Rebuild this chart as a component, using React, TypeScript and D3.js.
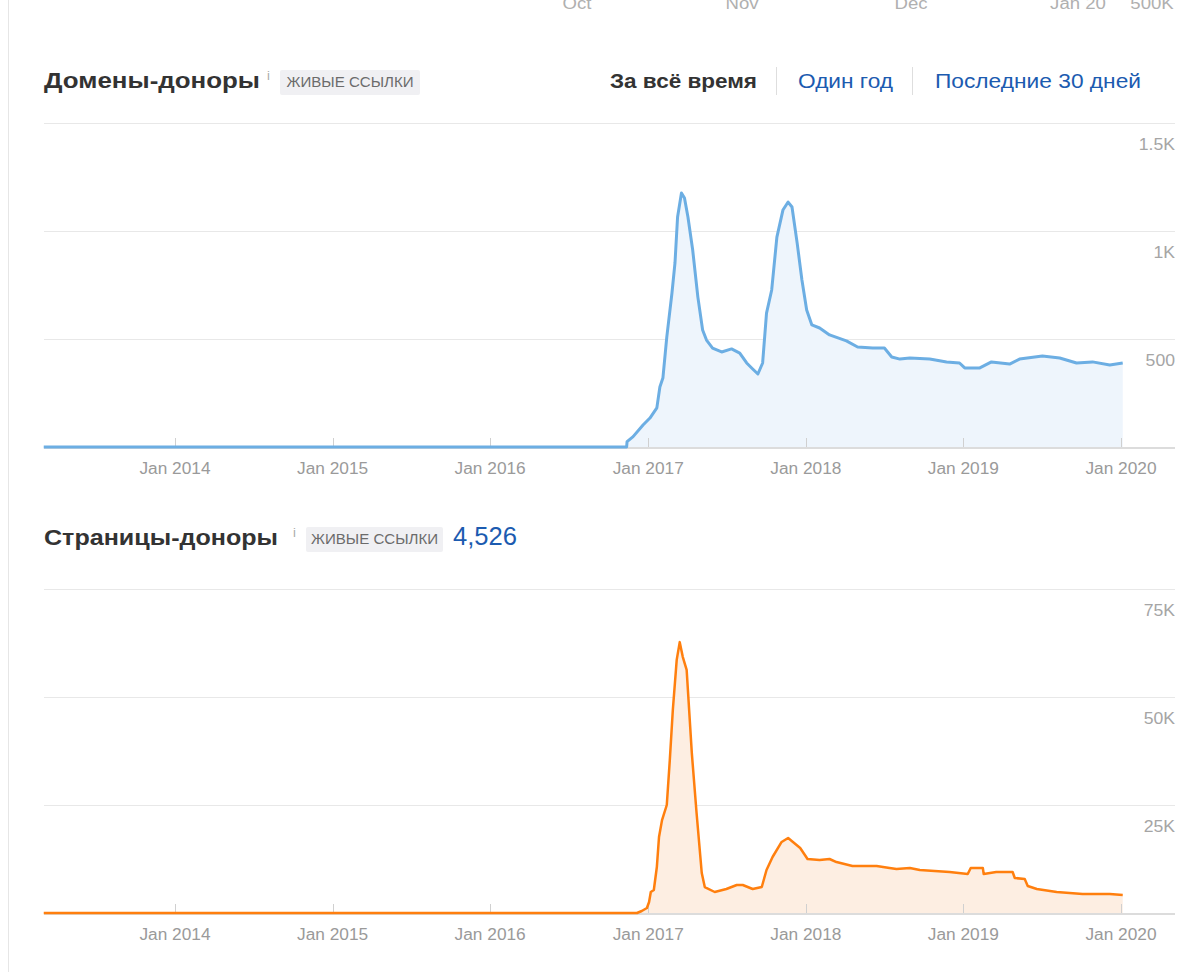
import { useEffect, useRef } from 'react';
import * as d3 from 'd3';

// ссылающиеся домены (живые ссылки)
const domainDates = [
    "2013-03-03", "2016-11-12", "2016-11-13", "2016-11-27", "2016-12-20", "2017-01-05", "2017-01-21",
    "2017-01-28", "2017-02-04", "2017-02-13", "2017-02-25", "2017-03-04", "2017-03-10", "2017-03-19",
    "2017-03-26", "2017-04-03", "2017-04-14", "2017-04-26", "2017-05-07", "2017-05-16", "2017-05-30",
    "2017-06-20", "2017-07-13", "2017-08-01", "2017-08-17", "2017-08-31", "2017-09-12", "2017-09-23",
    "2017-10-02", "2017-10-14", "2017-10-26", "2017-11-09", "2017-11-21", "2017-11-30", "2017-12-12",
    "2017-12-23", "2018-01-03", "2018-01-15", "2018-02-02", "2018-02-25", "2018-04-05", "2018-05-01",
    "2018-06-05", "2018-07-02", "2018-07-19", "2018-08-07", "2018-08-30", "2018-10-15", "2018-11-23",
    "2018-12-23", "2019-01-04", "2019-02-08", "2019-03-07", "2019-04-18", "2019-05-11", "2019-07-03",
    "2019-08-12", "2019-09-20", "2019-10-27", "2019-12-06", "2020-01-05"
];
const domainValues = [
    0, 0, 25, 48, 102, 134, 181,
    278, 319, 509, 713, 852, 1065, 1176,
    1153, 1065, 912, 694, 542, 495, 458,
    440, 454, 435, 389, 361, 338, 389,
    620, 727, 972, 1097, 1134, 1111, 944,
    773, 634, 565, 551, 519, 491, 463,
    458, 458, 417, 407, 412, 407, 394,
    389, 366, 366, 394, 384, 407, 421,
    412, 389, 394, 380, 389
];

// страницы-доноры
const pageDates = [
    "2013-03-03", "2016-12-06", "2016-12-17", "2016-12-29", "2017-01-03", "2017-01-07", "2017-01-14",
    "2017-01-21", "2017-01-26", "2017-02-02", "2017-02-13", "2017-02-20", "2017-02-27", "2017-03-08",
    "2017-03-15", "2017-03-22", "2017-03-31", "2017-04-12", "2017-04-23", "2017-05-05", "2017-05-12",
    "2017-06-04", "2017-07-01", "2017-07-25", "2017-08-08", "2017-08-31", "2017-09-21", "2017-10-02",
    "2017-10-16", "2017-11-06", "2017-11-21", "2017-12-19", "2018-01-05", "2018-02-02", "2018-02-25",
    "2018-03-13", "2018-04-19", "2018-06-14", "2018-07-14", "2018-07-30", "2018-08-30", "2018-09-22",
    "2018-11-30", "2019-01-11", "2019-01-18", "2019-02-15", "2019-02-17", "2019-03-18", "2019-04-25",
    "2019-04-30", "2019-05-23", "2019-05-30", "2019-06-20", "2019-08-05", "2019-10-04", "2019-12-06",
    "2020-01-05"
];
const pageValues = [
    0, 0, 463, 1160, 2550, 4860, 5320,
    10650, 17600, 21500, 25000, 35400, 47000, 58600,
    62700, 59300, 56300, 37000, 23150, 9260, 6000,
    4860, 5560, 6480, 6480, 5560, 6020, 9950,
    12960, 16440, 17360, 15050, 12500, 12270, 12500,
    11800, 10880, 10880, 10420, 10190, 10420, 9950,
    9490, 9030, 10420, 10420, 9030, 9490, 9490,
    8100, 7870, 6250, 5560, 4860, 4400, 4400,
    4170
];

const yearTicks = ["2014-01-01", "2015-01-01", "2016-01-01", "2017-01-01", "2018-01-01", "2019-01-01", "2020-01-01"];
const domainYTicks = [500, 1000, 1500];
const domainYLabels = ["500", "1K", "1.5K"];
const pageYTicks = [25000, 50000, 75000];
const pageYLabels = ["25K", "50K", "75K"];
const cutTopLabels = ["Oct", "Nov", "Dec", "Jan 20", "500K"];
const periodTabs = ["За всё время", "Один год", "Последние 30 дней"];

const FONT = "'Liberation Sans', Arial, sans-serif";
const parse = d3.timeParse("%Y-%m-%d");

// the screenshot is a little wider than normal Arial, so stretch the glyphs
const STRETCH = 1.16;

const App = () => {
    const ref = useRef<SVGSVGElement>(null);

    useEffect(() => {
        const svg = d3.select(ref.current);
        svg.selectAll("*").remove();

        const left = 44, right = 1175;
        const x = d3.scaleTime()
            .domain([parse("2014-01-01")!, parse("2020-01-01")!])
            .range([175, 1121]);

        // stretch a text node horizontally by measuring it first
        function stretch(sel: d3.Selection<SVGTextElement, any, any, any>, k = STRETCH) {
            sel.each(function () {
                const w = this.getComputedTextLength();
                d3.select(this).attr("textLength", w * k).attr("lengthAdjust", "spacingAndGlyphs");
            });
        }

        // left border
        svg.append("line")
            .attr("x1", 8.5).attr("x2", 8.5).attr("y1", 0).attr("y2", 972)
            .style("stroke", "#e6e6e6");

        // clipped labels of the chart above
        const cutX = [577, 742, 911, 1078, 1152];
        const cut = svg.selectAll(".cut").data(cutTopLabels).enter().append("text")
            .attr("x", (_d, i) => cutX[i])
            .attr("y", 9)
            .attr("text-anchor", "middle")
            .style("font-family", FONT).style("font-size", "16px").style("fill", "#b0b0b0")
            .text(d => d);
        stretch(cut as any);

        function header(y: number, title: string, titleW: number, iX: number, badgeX: number, badgeW: number) {
            svg.append("text")
                .attr("x", left).attr("y", y)
                .attr("textLength", titleW).attr("lengthAdjust", "spacingAndGlyphs")
                .style("font-family", FONT).style("font-size", "22px").style("font-weight", "bold")
                .style("fill", "#333")
                .text(title);
            svg.append("text")
                .attr("x", iX).attr("y", y - 8)
                .style("font-family", FONT).style("font-size", "13px").style("fill", "#aaa")
                .text("i");
            svg.append("rect")
                .attr("x", badgeX).attr("y", y - 18).attr("width", badgeW).attr("height", 25).attr("rx", 2)
                .style("fill", "#f0f0f3");
            svg.append("text")
                .attr("x", badgeX + badgeW / 2).attr("y", y - 1)
                .attr("text-anchor", "middle")
                .attr("textLength", 127).attr("lengthAdjust", "spacingAndGlyphs")
                .style("font-family", FONT).style("font-size", "14px").style("fill", "#6b6b6b")
                .text("ЖИВЫЕ ССЫЛКИ");
        }

        function chart(dates: string[], values: number[], yMax: number, top: number, base: number,
            ticks: number[], labels: string[], stroke: string, fill: string, lw: number) {
            const y = d3.scaleLinear().domain([0, yMax]).range([base, top]);
            const g = svg.append("g");

            g.selectAll(".grid").data(ticks).enter().append("line")
                .attr("x1", left).attr("x2", right)
                .attr("y1", d => Math.round(y(d)) + 0.5).attr("y2", d => Math.round(y(d)) + 0.5)
                .style("stroke", "#e8e8e8");

            const yl = g.selectAll(".ylab").data(ticks).enter().append("text")
                .attr("x", right).attr("y", d => y(d) + 27)
                .attr("text-anchor", "end")
                .style("font-family", FONT).style("font-size", "16px").style("fill", "#a5a5a5")
                .text((_d, i) => labels[i]);
            stretch(yl as any, 1.1);

            const data: [Date, number][] = dates.map((d, i) => [parse(d)!, values[i]]);

            const area = d3.area<[Date, number]>()
                .x(d => x(d[0])).y0(base).y1(d => y(d[1]));
            const line = d3.line<[Date, number]>()
                .x(d => x(d[0])).y(d => y(d[1]));

            g.append("path").datum(data).attr("d", area).style("fill", fill);

            g.selectAll(".tick").data(yearTicks).enter().append("line")
                .attr("x1", d => Math.round(x(parse(d)!)) + 0.5).attr("x2", d => Math.round(x(parse(d)!)) + 0.5)
                .attr("y1", base - 9).attr("y2", base)
                .style("stroke", "#d0d0d0");

            g.append("line")
                .attr("x1", left).attr("x2", right).attr("y1", base + 1).attr("y2", base + 1)
                .style("stroke", "#dcdcdc").style("stroke-width", 2);

            g.append("path").datum(data).attr("d", line)
                .style("fill", "none").style("stroke", stroke).style("stroke-width", lw)
                .style("stroke-linejoin", "round");

            const xl = g.selectAll(".xlab").data(yearTicks).enter().append("text")
                .attr("x", d => x(parse(d)!)).attr("y", base + 27)
                .attr("text-anchor", "middle")
                .style("font-family", FONT).style("font-size", "16px").style("fill", "#9a9a9a")
                .text(d => d3.timeFormat("Jan %Y")(parse(d)!));
            stretch(xl as any, 1.08);
        }

        // chart 1
        header(88, "Домены-доноры", 216, 267, 280, 140);
        const tabX = [610, 798, 935];
        const tabW = [147, 95, 206];
        svg.selectAll(".tab").data(periodTabs).enter().append("text")
            .attr("x", (_d, i) => tabX[i]).attr("y", 88)
            .attr("textLength", (_d, i) => tabW[i]).attr("lengthAdjust", "spacingAndGlyphs")
            .style("font-family", FONT).style("font-size", "21px")
            .style("font-weight", (_d, i) => i === 0 ? "bold" : "normal")
            .style("fill", (_d, i) => i === 0 ? "#333" : "#1c5bb0")
            .text(d => d);
        [776.5, 912.5].forEach(sx => {
            svg.append("line").attr("x1", sx).attr("x2", sx).attr("y1", 67).attr("y2", 95)
                .style("stroke", "#dedede");
        });
        chart(domainDates, domainValues, 1500, 123, 447, domainYTicks, domainYLabels, "#6caee3", "#eef5fc", 3);

        // chart 2
        header(545, "Страницы-доноры", 234, 293, 306, 137);
        svg.append("text")
            .attr("x", 453).attr("y", 545)
            .attr("textLength", 64).attr("lengthAdjust", "spacingAndGlyphs")
            .style("font-family", FONT).style("font-size", "25px").style("fill", "#1c5bb0")
            .text(d3.format(",")(4526));
        chart(pageDates, pageValues, 75000, 589, 913, pageYTicks, pageYLabels, "#ff7f0e", "#fdeee2", 2.5);
    }, []);

    return (
        <svg ref={ref} width={1201} height={972}
            style={{ position: "absolute", top: 0, left: 0, background: "#fff" }} />
    );
};

export default App;
